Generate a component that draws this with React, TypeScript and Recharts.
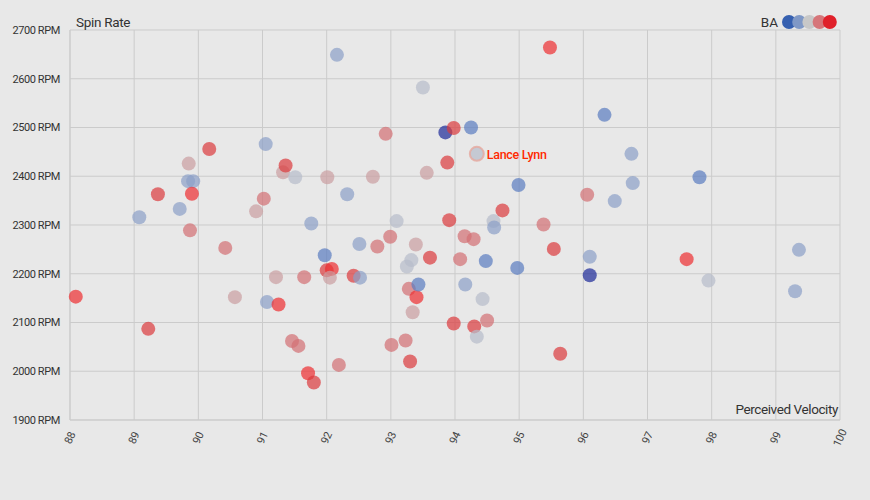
import React from 'react';
import { ScatterChart, Scatter, XAxis, YAxis, CartesianGrid, Customized } from 'recharts';

// perceived velocity (mph), spin rate (rpm) and BA colour group for each pitcher
const velocity = [
  88.09, 89.22, 89.08, 89.37, 89.71, 89.84, 89.92, 89.85, 89.9, 89.87,
  90.17, 90.42, 90.57, 90.9, 91.02, 91.05, 91.07, 91.21, 91.25, 91.32,
  91.36, 91.46, 91.51, 91.56, 91.65, 91.71, 91.76, 91.8, 91.97, 92.0,
  92.08, 92.05, 92.01, 92.16, 92.19, 92.32, 92.42, 92.51, 92.52, 92.72,
  92.79, 92.92, 92.99, 93.01, 93.09, 93.23, 93.25, 93.28, 93.3, 93.32,
  93.34, 93.39, 93.4, 93.43, 93.5, 93.56, 93.61, 93.85, 93.88, 93.91,
  93.98, 93.98, 94.08, 94.15, 94.16, 94.25, 94.29, 94.3, 94.34, 94.43,
  94.48, 94.5, 94.6, 94.61, 94.74, 94.97, 94.99, 95.38, 95.48, 95.54,
  95.64, 96.06, 96.1, 96.1, 96.33, 96.49, 96.75, 96.77, 97.61, 97.81,
  97.95, 99.3, 99.36,
];
const spinRate = [
  2153, 2087, 2316, 2363, 2333, 2390, 2390, 2426, 2364, 2289,
  2456, 2253, 2152, 2328, 2354, 2466, 2142, 2193, 2137, 2408,
  2422, 2062, 2398, 2052, 2193, 1996, 2303, 1977, 2238, 2207,
  2210, 2192, 2398, 2649, 2013, 2363, 2196, 2261, 2192, 2399,
  2256, 2487, 2276, 2054, 2308, 2063, 2215, 2169, 2020, 2228,
  2121, 2260, 2152, 2178, 2582, 2407, 2233, 2490, 2428, 2310,
  2499, 2098, 2230, 2277, 2178, 2500, 2271, 2092, 2071, 2148,
  2226, 2104, 2308, 2295, 2330, 2212, 2382, 2301, 2664, 2251,
  2036, 2362, 2235, 2197, 2526, 2349, 2446, 2386, 2230, 2398,
  2186, 2164, 2249,
];
const baGroup = [
  7, 6, 2, 6, 2, 2, 2, 4, 7, 5,
  6, 5, 4, 4, 5, 2, 2, 4, 7, 4,
  6, 5, 3, 5, 5, 7, 2, 6, 1, 6,
  7, 4, 4, 2, 5, 2, 6, 2, 2, 4,
  5, 5, 5, 5, 3, 5, 3, 5, 6, 3,
  4, 4, 7, 1, 3, 4, 6, 0, 6, 6,
  6, 6, 5, 5, 2, 1, 5, 6, 3, 3,
  1, 5, 3, 2, 6, 1, 1, 5, 7, 6,
  6, 5, 2, 0, 1, 2, 2, 2, 7, 1,
  3, 2, 2,
];

const highlighted = [{ name: 'Lance Lynn', v: 94.34, rpm: 2446, group: 3 }];

const xTicks = [88, 89, 90, 91, 92, 93, 94, 95, 96, 97, 98, 99, 100];
const yTicks = [1900, 2000, 2100, 2200, 2300, 2400, 2500, 2600, 2700];

const GROUP_COLORS = ['#1c2a98', '#5a7cc0', '#8b9fc7', '#b6bcca', '#cb9ea1', '#d36f73', '#dc3a3d', '#ee2e30'];
const LEGEND_COLORS = ['#3660b0', '#7f98c6', '#c8c8c8', '#d6767a', '#e0202a'];

const FONT = 'Roboto, sans-serif';

const pitchers = velocity.map((v, i) => ({ v, rpm: spinRate[i], group: baGroup[i] }));

const Dot = (props: any) => {
  const { cx, cy, payload } = props;
  return <circle cx={cx} cy={cy} r={7} fill={GROUP_COLORS[payload.group]} fillOpacity={0.7} />;
};

const HighlightDot = (props: any) => {
  const { cx, cy, payload } = props;
  return (
    <g>
      <circle cx={cx} cy={cy} r={7} fill={GROUP_COLORS[payload.group]} fillOpacity={0.7} stroke="#e6a89e" strokeWidth={2} strokeOpacity={0.8} />
      <text x={cx + 10} y={cy + 5} fill="#ff2a00" fontSize={12.5} fontWeight={500} fontFamily={FONT} letterSpacing={-0.3}>
        {payload.name}
      </text>
    </g>
  );
};

const XTick = (props: any) => {
  const { x, y, payload } = props;
  return (
    <text
      transform={`translate(${x},${y + 16}) rotate(-65)`}
      textAnchor="middle"
      dominantBaseline="central"
      fontSize={11}
      fill="#444"
      fontFamily={FONT}
      letterSpacing={-0.3}
    >
      {payload.value}
    </text>
  );
};

const Overlay = () => (
  <g fontFamily={FONT}>
    <text x={76} y={27} fontSize={13.5} fill="#333" letterSpacing={-0.3}>Spin Rate</text>
    <text x={838} y={414} fontSize={13.5} fill="#333" textAnchor="end" letterSpacing={-0.4}>Perceived Velocity</text>
    <text x={778} y={27} fontSize={13.5} fill="#333" textAnchor="end">BA</text>
    {LEGEND_COLORS.map((c, i) => (
      <circle key={c} cx={789 + i * 10.2} cy={22} r={7} fill={c} />
    ))}
  </g>
);

export default function App() {
  return (
    <div style={{ position: 'absolute', left: 0, top: 0, width: 870, height: 500, background: '#e8e8e8' }}>
      <ScatterChart width={870} height={500} margin={{ top: 30, right: 30, left: 0, bottom: 0 }}>
        <CartesianGrid stroke="#cbcbcb" />
        <XAxis
          type="number"
          dataKey="v"
          domain={[88, 100]}
          ticks={xTicks}
          interval={0}
          height={80}
          tickLine={false}
          tickSize={0}
          axisLine={{ stroke: '#cbcbcb' }}
          tick={<XTick />}
        />
        <YAxis
          type="number"
          dataKey="rpm"
          domain={[1900, 2700]}
          ticks={yTicks}
          interval={0}
          width={70}
          tickLine={false}
          tickSize={0}
          tickMargin={10}
          axisLine={{ stroke: '#cbcbcb' }}
          tickFormatter={(t: number) => `${t} RPM`}
          tick={{ fontSize: 11, fill: '#333', fontFamily: FONT, letterSpacing: -0.4 }}
        />
        <Scatter data={pitchers} shape={<Dot />} isAnimationActive={false} />
        <Scatter data={highlighted} shape={<HighlightDot />} isAnimationActive={false} />
        <Customized component={Overlay} />
      </ScatterChart>
    </div>
  );
}
